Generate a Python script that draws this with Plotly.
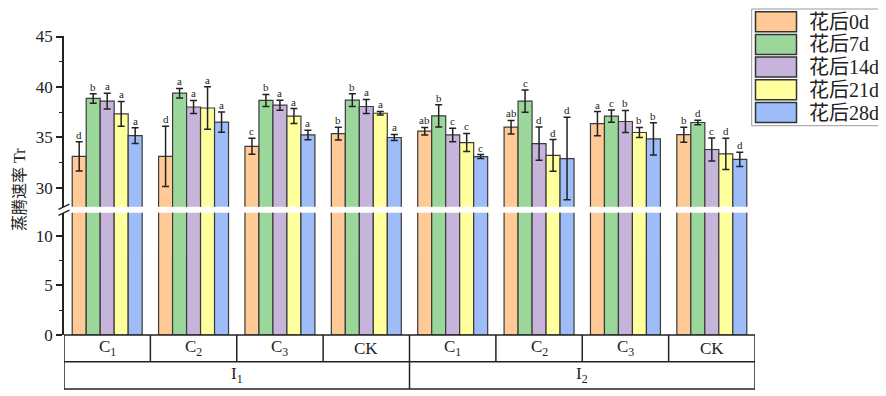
import plotly.graph_objects as go

# ---------------- data ----------------
categories = ["I1-C1", "I1-C2", "I1-C3", "I1-CK", "I2-C1", "I2-C2", "I2-C3", "I2-CK"]
level2_labels = ["C<sub>1</sub>", "C<sub>2</sub>", "C<sub>3</sub>", "CK",
                 "C<sub>1</sub>", "C<sub>2</sub>", "C<sub>3</sub>", "CK"]
level1_labels = ["I<sub>1</sub>", "I<sub>2</sub>"]
series_names = ["花后0d", "花后7d", "花后14d", "花后21d", "花后28d"]

d0 = [33.1, 33.1, 34.1, 35.35, 35.6, 36.0, 36.35, 35.25]
d7 = [38.85, 39.37, 38.65, 38.68, 37.12, 38.58, 37.09, 36.46]
d14 = [38.58, 38.0, 38.18, 38.05, 35.23, 34.37, 36.56, 33.78]
d21 = [37.32, 37.9, 37.1, 37.38, 34.47, 33.2, 35.47, 33.34]
d28 = [35.16, 36.5, 35.23, 34.97, 33.08, 32.88, 34.83, 32.8]

e0 = [1.45, 3.0, 0.8, 0.63, 0.37, 0.67, 1.2, 0.75]
e7 = [0.47, 0.47, 0.6, 0.63, 1.1, 1.1, 0.6, 0.23]
e14 = [0.78, 0.65, 0.5, 0.7, 0.67, 1.65, 1.1, 1.15]
e21 = [1.23, 2.1, 0.75, 0.18, 0.9, 1.57, 0.5, 1.55]
e28 = [0.78, 1.0, 0.47, 0.3, 0.2, 4.1, 1.6, 0.7]

L0 = ["d", "d", "c", "b", "ab", "ab", "a", "b"]
L7 = ["b", "a", "b", "b", "b", "c", "c", "d"]
L14 = ["a", "a", "a", "a", "c", "d", "b", "c"]
L21 = ["a", "a", "a", "a", "c", "d", "b", "d"]
L28 = ["a", "a", "a", "a", "c", "d", "b", "d"]

values = [d0, d7, d14, d21, d28]
errors = [e0, e7, e14, e21, e28]
letters = [L0, L7, L14, L21, L28]
colors = ["#FFCA95", "#9BD69B", "#C6B4DA", "#FFFF9E", "#9DBCF8"]

# ---------------- layout constants ----------------
# the HTML page body has an 8px margin, so the figure is made 8px smaller
OFF = 8
W, H = 886 - OFF, 396 - OFF
# plot area in page pixels: x 64..755, y 36..335
PL, PR, PT, PB = 64, 755, 36, 335
ML, MT = PL - OFF, PT - OFF
MR, MB = W - (PR - OFF), H - (PB - OFF)
PW = PR - PL
PH = PB - PT
BARGAP = 0.19
SERIF = "Liberation Serif, Noto Sans CJK SC, serif"
LINE = "#222222"


def px2x(px):
    return (px - PL) / PW


def py2y(py):
    return (PB - py) / PH


bottom_top = 12.3
top_low = 28.1
dom_bot = [0, py2y(212.7)]
dom_top = [py2y(206.7), 1]

fig = go.Figure()

n = len(values)
for i in range(n):
    # bottom panel
    fig.add_trace(go.Bar(
        x=categories, y=values[i], name=series_names[i],
        marker=dict(color=colors[i], line=dict(color="#3a3a3a", width=1.2)),
        xaxis="x", yaxis="y", showlegend=False, offsetgroup=str(i),
    ))
for i in range(n):
    # top panel
    fig.add_trace(go.Bar(
        x=categories, y=values[i], name=series_names[i],
        marker=dict(color=colors[i], line=dict(color="#3a3a3a", width=1.2)),
        error_y=dict(type="data", array=errors[i], visible=True,
                     color=LINE, thickness=1.5, width=3.5),
        xaxis="x", yaxis="y2", showlegend=False, offsetgroup=str(i),
    ))

annotations = []
shapes = []

# significance letters
bw = (1 - BARGAP) / n
for i in range(n):
    for j, cat in enumerate(categories):
        xc = j + (i - (n - 1) / 2) * bw
        annotations.append(dict(
            x=xc, y=values[i][j] + errors[i][j], xref="x", yref="y2",
            text=letters[i][j], showarrow=False, xanchor="center", yanchor="bottom",
            yshift=-1, font=dict(family=SERIF, size=11, color=LINE)))

# category table under the axis
r1 = py2y(361.7)
r2 = py2y(389)
lw = 1.5
for yv in [0, r1, r2]:
    shapes.append(dict(type="line", xref="x", yref="paper", x0=-0.5, x1=7.5, y0=yv, y1=yv,
                       line=dict(color=LINE, width=lw)))
for xv in [-0.5, 3.5, 7.5]:
    shapes.append(dict(type="line", xref="x", yref="paper", x0=xv, x1=xv, y0=r2, y1=0,
                       line=dict(color=LINE, width=lw)))
for xv in [0.5, 1.5, 2.5, 4.5, 5.5, 6.5]:
    shapes.append(dict(type="line", xref="x", yref="paper", x0=xv, x1=xv, y0=r1, y1=0,
                       line=dict(color=LINE, width=lw)))
for j, lab in enumerate(level2_labels):
    annotations.append(dict(x=j, y=r1 / 2, xref="x", yref="paper", text=lab,
                            showarrow=False, xanchor="center", yanchor="middle",
                            font=dict(family=SERIF, size=17, color=LINE)))
for k, lab in enumerate(level1_labels):
    annotations.append(dict(x=1.5 + 4 * k, y=(r1 + r2) / 2, xref="x", yref="paper", text=lab,
                            showarrow=False, xanchor="center", yanchor="middle",
                            font=dict(family=SERIF, size=17, color=LINE)))

# axis break marks
for y_end in [206.7, 212.7]:
    shapes.append(dict(type="line", xref="paper", yref="paper",
                       x0=px2x(58.5), y0=py2y(y_end + 2.6), x1=px2x(69.5), y1=py2y(y_end - 2.6),
                       line=dict(color=LINE, width=1.3)))

# y-axis title
annotations.append(dict(x=px2x(19), y=py2y(190), xref="paper", yref="paper",
                        text="蒸腾速率 Tr", textangle=-90, showarrow=False,
                        xanchor="center", yanchor="middle",
                        font=dict(family=SERIF, size=16, color=LINE)))

# legend (drawn manually)
shapes.append(dict(type="rect", xref="paper", yref="paper",
                   x0=px2x(751.7), x1=px2x(882.3), y0=py2y(125.7), y1=py2y(9),
                   line=dict(color="#999999", width=1), fillcolor="white"))
for k, name in enumerate(series_names):
    top = 11.7 + k * 22.7
    shapes.append(dict(type="rect", xref="paper", yref="paper",
                       x0=px2x(755.5), x1=px2x(796.5), y0=py2y(top + 20), y1=py2y(top),
                       line=dict(color="#333333", width=1.5), fillcolor=colors[k]))
    annotations.append(dict(x=px2x(807), y=py2y(top + 10), xref="paper", yref="paper",
                            text=name, showarrow=False, xanchor="left", yanchor="middle",
                            font=dict(family=SERIF, size=20, color=LINE)))

axis_common = dict(showgrid=False, zeroline=False, showline=True, linecolor=LINE,
                   linewidth=1.5, ticks="outside", ticklen=6, tickwidth=1.5,
                   tickcolor=LINE, tickmode="linear", dtick=5,
                   tickfont=dict(family=SERIF, size=17, color=LINE),
                   minor=dict(ticks="outside", ticklen=3, tickwidth=1.3,
                              tickcolor=LINE, dtick=2.5))

fig.update_layout(
    width=W, height=H,
    margin=dict(l=ML, r=MR, t=MT, b=MB),
    plot_bgcolor="white", paper_bgcolor="white",
    barmode="group", bargap=BARGAP, bargroupgap=0,
    showlegend=False,
    xaxis=dict(type="category", categoryorder="array", categoryarray=categories,
               range=[-0.5, 7.5], showticklabels=False, ticks="", showline=False,
               showgrid=False, zeroline=False, anchor="y"),
    yaxis=dict(domain=dom_bot, range=[0, bottom_top], tick0=0, anchor="x", **axis_common),
    yaxis2=dict(domain=dom_top, range=[top_low, 45.05], tick0=30, anchor="x", **axis_common),
    annotations=annotations,
    shapes=shapes,
)

fig.write_html("out.html")
